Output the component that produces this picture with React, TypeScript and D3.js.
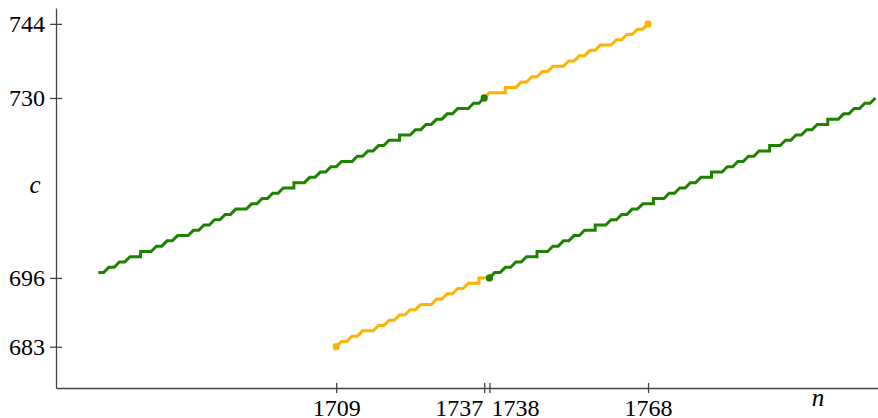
import React, { useEffect, useRef } from 'react';
import * as d3 from 'd3';

// tick values shown on the axes
const xTicks = [1709, 1737, 1738, 1768];
const yTicks = [683, 696, 730, 744];

// [n, c] points (repeated n = vertical step)
const greenUpper: [number, number][] = [
  [1664, 697], [1665, 697], [1666, 698], [1667, 698], [1668, 699], [1669, 699], [1670, 700], [1671, 700],
  [1672, 700], [1672, 701], [1673, 701], [1674, 701], [1675, 702], [1676, 702], [1677, 703], [1678, 703],
  [1679, 704], [1680, 704], [1681, 704], [1682, 705], [1683, 705], [1684, 706], [1685, 706], [1686, 707],
  [1687, 707], [1688, 708], [1689, 708], [1690, 709], [1691, 709], [1692, 709], [1693, 710], [1694, 710],
  [1695, 711], [1696, 711], [1697, 712], [1698, 712], [1699, 713], [1700, 713], [1701, 713], [1701, 714],
  [1702, 714], [1703, 714], [1704, 715], [1705, 715], [1706, 716], [1707, 716], [1708, 717], [1709, 717],
  [1710, 718], [1711, 718], [1712, 718], [1713, 719], [1714, 719], [1715, 720], [1716, 720], [1717, 721],
  [1718, 721], [1719, 722], [1720, 722], [1721, 722], [1721, 723], [1722, 723], [1723, 723], [1724, 724],
  [1725, 724], [1726, 725], [1727, 725], [1728, 726], [1729, 726], [1730, 727], [1731, 727], [1732, 728],
  [1733, 728], [1734, 728], [1735, 729], [1736, 729], [1737, 730]
];

const orangeLower: [number, number][] = [
  [1709, 683], [1710, 684], [1711, 684], [1712, 685], [1713, 685], [1714, 686], [1715, 686], [1716, 686],
  [1717, 687], [1718, 687], [1719, 688], [1720, 688], [1721, 689], [1722, 689], [1723, 690], [1724, 690],
  [1725, 691], [1726, 691], [1727, 691], [1728, 692], [1729, 692], [1730, 693], [1731, 693], [1732, 694],
  [1733, 694], [1734, 695], [1735, 695], [1736, 695], [1736, 696], [1737, 696], [1738, 696]
];

const greenLower: [number, number][] = [
  [1738, 696], [1739, 697], [1740, 697], [1741, 698], [1742, 698], [1743, 699], [1744, 699], [1745, 700],
  [1746, 700], [1747, 700], [1747, 701], [1748, 701], [1749, 701], [1750, 702], [1751, 702], [1752, 703],
  [1753, 703], [1754, 704], [1755, 704], [1756, 705], [1757, 705], [1758, 705], [1758, 706], [1759, 706],
  [1760, 706], [1761, 707], [1762, 707], [1763, 708], [1764, 708], [1765, 709], [1766, 709], [1767, 710],
  [1768, 710], [1769, 710], [1769, 711], [1770, 711], [1771, 711], [1772, 712], [1773, 712], [1774, 713],
  [1775, 713], [1776, 714], [1777, 714], [1778, 715], [1779, 715], [1780, 715], [1780, 716], [1781, 716],
  [1782, 716], [1783, 717], [1784, 717], [1785, 718], [1786, 718], [1787, 719], [1788, 719], [1789, 720],
  [1790, 720], [1791, 720], [1791, 721], [1792, 721], [1793, 721], [1794, 722], [1795, 722], [1796, 723],
  [1797, 723], [1798, 724], [1799, 724], [1800, 725], [1801, 725], [1802, 725], [1802, 726], [1803, 726],
  [1804, 726], [1805, 727], [1806, 727], [1807, 728], [1808, 728], [1809, 729], [1810, 729], [1811, 730]
];

const orangeUpper: [number, number][] = [
  [1737, 730], [1738, 731], [1739, 731], [1740, 731], [1741, 731], [1741, 732], [1742, 732], [1743, 732],
  [1744, 733], [1745, 733], [1746, 734], [1747, 734], [1748, 735], [1749, 735], [1750, 736], [1751, 736],
  [1752, 736], [1753, 737], [1754, 737], [1755, 738], [1756, 738], [1757, 739], [1758, 739], [1759, 740],
  [1760, 740], [1761, 740], [1762, 741], [1763, 741], [1764, 742], [1765, 742], [1766, 743], [1767, 743],
  [1768, 744]
];

const GREEN = '#1c8200';
const ORANGE = '#ffb300';

export default function App() {
  const ref = useRef<SVGSVGElement>(null);

  useEffect(() => {
    const svg = d3.select(ref.current);
    svg.selectAll('*').remove();

    const x = d3.scaleLinear().domain([1656, 1811.5]).range([56, 878]);
    const y = d3.scaleLinear().domain([675.2, 747]).range([388, 8]);

    const font = '"Liberation Serif", "DejaVu Serif", serif';
    const fontSize = 24;

    // axes
    const yAxis = svg.append('g')
      .attr('transform', 'translate(56,0)')
      .call(d3.axisLeft(y).tickValues(yTicks).tickSize(6).tickSizeOuter(0).tickPadding(5).tickFormat(d3.format('d')));
    yAxis.selectAll('.tick line').attr('x1', 6);
    yAxis.selectAll('text').attr('font-size', fontSize).attr('font-family', font).attr('fill', '#000')
      .attr('dy', '0.33em');

    const xAxis = svg.append('g')
      .attr('transform', 'translate(0,388)')
      .call(d3.axisBottom(x).tickValues(xTicks).tickSize(5).tickSizeOuter(0).tickFormat(d3.format('d')));
    xAxis.selectAll('.tick line').attr('y1', -5);
    xAxis.selectAll('text')
      .attr('font-size', fontSize).attr('font-family', font).attr('fill', '#000')
      .attr('y', 27.5).attr('dy', 0)
      .attr('x', (d: any) => (d === 1737 ? -1.5 : d === 1738 ? 1.5 : 0))
      .attr('text-anchor', (d: any) => (d === 1737 ? 'end' : d === 1738 ? 'start' : 'middle'));

    svg.selectAll('.domain, .tick line').attr('stroke', '#444').attr('stroke-width', 1.3);

    // axis names
    svg.append('text').attr('x', 35).attr('y', 193).attr('text-anchor', 'middle')
      .attr('font-family', font).attr('font-style', 'italic').attr('font-size', 25).text('c');
    svg.append('text').attr('x', 818).attr('y', 406).attr('text-anchor', 'middle')
      .attr('font-family', font).attr('font-style', 'italic').attr('font-size', 25).text('n');

    // series
    const line = d3.line<[number, number]>()
      .x(d => x(d[0]))
      .y(d => y(d[1]));

    const series: [[number, number][], string][] = [
      [orangeLower, ORANGE], [orangeUpper, ORANGE], [greenUpper, GREEN], [greenLower, GREEN]
    ];
    series.forEach(([data, color]) => {
      svg.append('path')
        .datum(data)
        .attr('fill', 'none')
        .attr('stroke', color)
        .attr('stroke-width', 3)
        .attr('stroke-linejoin', 'miter')
        .attr('d', line);
    });

    // end points
    const dots: [[number, number], string][] = [
      [orangeLower[0], ORANGE],
      [orangeUpper[orangeUpper.length - 1], ORANGE],
      [greenUpper[greenUpper.length - 1], GREEN],
      [greenLower[0], GREEN]
    ];
    svg.selectAll('circle.end')
      .data(dots)
      .enter().append('circle')
      .attr('class', 'end')
      .attr('cx', d => x(d[0][0]))
      .attr('cy', d => y(d[0][1]))
      .attr('r', 3.6)
      .attr('fill', d => d[1]);
  }, []);

  return (
    <svg ref={ref} width={878} height={418} style={{ position: 'absolute', left: 0, top: 0, background: '#fff' }} />
  );
}
